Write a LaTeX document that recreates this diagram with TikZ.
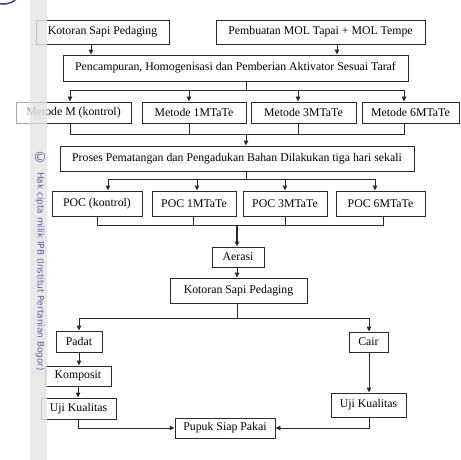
\documentclass[tikz,border=0pt]{standalone}
\usepackage{fontspec}
\setmainfont{Liberation Serif}
\newfontfamily\wmfont{DejaVu Sans}
\usetikzlibrary{arrows.meta}
\definecolor{ln}{HTML}{2A2A2A}
\definecolor{wm}{HTML}{6060A8}
\tikzset{
  box/.style={draw=ln, line width=0.9pt, inner sep=0pt, font=\fontsize{11.8}{13}\selectfont, text=black},
  wire/.style={draw=ln, line width=0.9pt},
  arr/.style={draw=ln, line width=0.9pt, -{Triangle[length=5pt,width=4.5pt]}},
}
\begin{document}
\begin{tikzpicture}[x=1pt,y=-1pt]
\useasboundingbox (0,0) rectangle (461,460);
% boxes
\node[box, minimum width=133, minimum height=24] (k1) at (102.5,32) {Kotoran Sapi Pedaging};
\node[box, minimum width=209, minimum height=24] (mol) at (320.5,32) {Pembuatan MOL Tapai + MOL Tempe};
\node[box, minimum width=345, minimum height=26] (pen) at (235.5,68) {Pencampuran, Homogenisasi dan Pemberian Aktivator Sesuai Taraf};
\node[box, minimum width=115, minimum height=21] (m0) at (73.5,112.5) {Metode M (kontrol)};
\node[box, minimum width=104, minimum height=21] (m1) at (194,112.5) {Metode 1MTaTe};
\node[box, minimum width=105, minimum height=21] (m3) at (303.5,112.5) {Metode 3MTaTe};
\node[box, minimum width=97, minimum height=21] (m6) at (410.5,112.5) {Metode 6MTaTe};
\node[box, minimum width=354, minimum height=25] (pro) at (237,158.5) {Proses Pematangan dan Pengadukan Bahan Dilakukan tiga hari sekali};
\node[box, minimum width=90, minimum height=25] (p0) at (97,203.5) {POC (kontrol)};
\node[box, minimum width=84, minimum height=25] (p1) at (194,203.5) {POC 1MTaTe};
\node[box, minimum width=84, minimum height=25] (p3) at (285,203.5) {POC 3MTaTe};
\node[box, minimum width=89, minimum height=25] (p6) at (380.5,203.5) {POC 6MTaTe};
\node[box, minimum width=52, minimum height=20] (aer) at (238,257) {Aerasi};
\node[box, minimum width=137, minimum height=25] (k2) at (238.5,290.5) {Kotoran Sapi Pedaging};
\node[box, minimum width=46, minimum height=21] (pad) at (79,341.5) {Padat};
\node[box, minimum width=66, minimum height=20] (kom) at (78,376) {Komposit};
\node[box, minimum width=75, minimum height=21] (uj1) at (78.5,408.5) {Uji Kualitas};
\node[box, minimum width=100, minimum height=20] (pup) at (225,428) {Pupuk Siap Pakai};
\node[box, minimum width=39, minimum height=20] (cair) at (368.5,342) {Cair};
\node[box, minimum width=75, minimum height=24] (uj2) at (368.5,405) {Uji Kualitas};
% junction coordinates
\coordinate (j1) at (246,90);
\coordinate (j1l) at (70,90);
\coordinate (j1r) at (404,90);
\coordinate (j2) at (246,134);
\coordinate (j2l) at (70,134);
\coordinate (j2r) at (404,134);
\coordinate (j3) at (246,179);
\coordinate (j3l) at (108,179);
\coordinate (j3r) at (375,179);
\coordinate (j4) at (237,225);
\coordinate (j4l) at (97,225);
\coordinate (j4r) at (383,225);
\coordinate (j5) at (237,318);
\coordinate (j5l) at (79,318);
\coordinate (j5r) at (369,318);
\coordinate (j6l) at (78,428);
\coordinate (j6r) at (369,428);
% top inputs
\draw[arr] (k1.south -| 91,0) -- (pen.north -| 91,0);
\draw[arr] (mol.south -| 337,0) -- (pen.north -| 337,0);
% pencampuran to metode
\draw[wire] (pen.south -| j1) -- (j1);
\draw[wire] (j1l) -- (j1r);
\draw[arr] (j1l) -- (m0.north -| j1l);
\draw[arr] (j1 -| 189,0) -- (m1.north -| 189,0);
\draw[arr] (j1 -| 298,0) -- (m3.north -| 298,0);
\draw[arr] (j1r) -- (m6.north -| j1r);
% metode to proses
\draw[wire] (m0.south -| j2l) -- (j2l) -- (j2r) -- (m6.south -| j2r);
\draw[wire] (m1.south -| 189,0) -- (j2 -| 189,0);
\draw[wire] (m3.south -| 298,0) -- (j2 -| 298,0);
\draw[arr] (j2) -- (pro.north -| j2);
% proses to POC
\draw[wire] (pro.south -| j3) -- (j3);
\draw[wire] (j3l) -- (j3r);
\draw[arr] (j3l) -- (p0.north -| j3l);
\draw[arr] (j3 -| 197,0) -- (p1.north -| 197,0);
\draw[arr] (j3 -| 285,0) -- (p3.north -| 285,0);
\draw[arr] (j3r) -- (p6.north -| j3r);
% POC to aerasi
\draw[wire] (p0.south -| j4l) -- (j4l) -- (j4r) -- (p6.south -| j4r);
\draw[wire] (p1.south -| 193,0) -- (j4 -| 193,0);
\draw[wire] (p3.south -| 285,0) -- (j4 -| 285,0);
\draw[arr, line width=1.2pt] (j4) -- (aer.north -| j4);
\draw[arr] (aer.south -| j4) -- (k2.north -| j4);
% split
\draw[wire] (k2.south -| j5) -- (j5);
\draw[wire] (j5l) -- (j5r);
\draw[arr] (j5l) -- (pad.north -| j5l);
\draw[arr] (j5r) -- (cair.north -| j5r);
\draw[arr] (pad.south -| j5l) -- (kom.north -| j5l);
\draw[arr] (kom.south -| j6l) -- (uj1.north -| j6l);
\draw[arr] (cair.south -| j5r) -- (uj2.north -| j5r);
\draw[arr] (uj1.south -| j6l) -- (j6l) -- (pup.west);
\draw[arr] (uj2.south -| j6r) -- (j6r) -- (pup.east);
% watermark strip
\fill[white, opacity=0.6] (0,0) rectangle (47,460);
\fill[black!14, opacity=0.6] (30,0) rectangle (47,460);
\begin{scope}
\clip (0,0) rectangle (47,460);
\draw[wm!70!black, line width=1.5pt] (3,-4) ellipse (14 and 8);
\end{scope}
\node[inner sep=0pt, text=wm, font=\wmfont\fontsize{14}{14}\selectfont] (cpy) at (40,157) {©};
\node[inner sep=0pt, text=wm, rotate=-90, anchor=west, font=\wmfont\fontsize{8.9}{9}\selectfont] (hak) at (40,172) {Hak cipta milik IPB (Institut Pertanian Bogor)};
\end{tikzpicture}
\end{document}
